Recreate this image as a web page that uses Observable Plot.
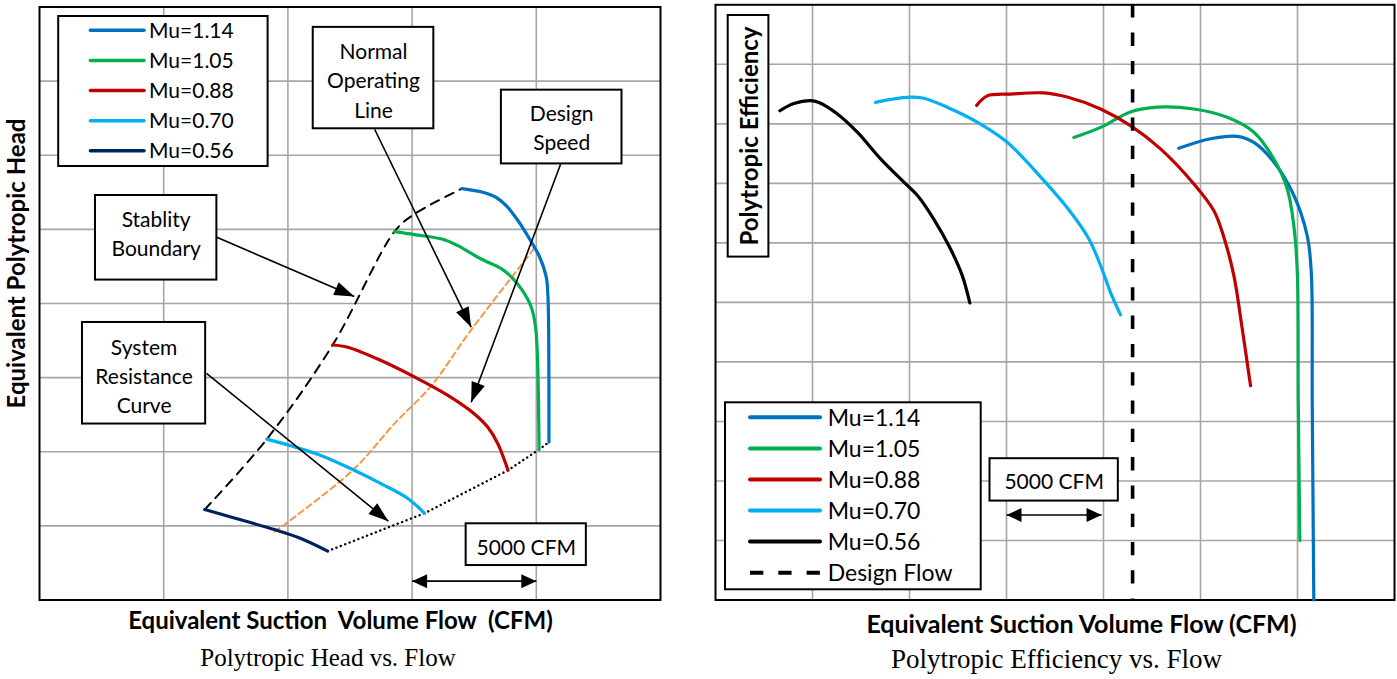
<!DOCTYPE html>
<html>
<head>
<meta charset="utf-8">
<script src="https://cdn.jsdelivr.net/npm/d3@7"></script>
<script src="https://cdn.jsdelivr.net/npm/@observablehq/plot@0.6"></script>
<style>
  html, body { margin: 0; padding: 0; background: #fff; }
  #page { position: relative; width: 1397px; height: 679px; overflow: hidden; background: #fff; }
  #page > svg { position: absolute; top: 0; }
</style>
</head>
<body>
<div id="page"></div>
<script>
// ---------------- data ----------------
const muLabels   = ["Mu=1.14", "Mu=1.05", "Mu=0.88", "Mu=0.70", "Mu=0.56"];
const headColors = ["#0070C0", "#00B050", "#C00000", "#00B0F0", "#002060"];
const effColors  = ["#0070C0", "#00B050", "#C00000", "#00B0F0", "#000000"];

// grid positions (CFM, head units, efficiency units)
const headFlowGrid = [5000, 10000, 15000, 20000];
const headGrid     = [1, 2, 3, 4, 5, 6, 7];
const effFlowGrid  = [5000, 10000, 15000, 20000, 25000, 30000];
const effGrid      = [1, 2, 3, 4, 5, 6, 7, 8, 9];

// Polytropic head vs flow  [flow CFM, head]
const head114 = [[17000,5.55],[17850,5.50],[18390,5.43],[18790,5.32],[19260,5.12],[19730,4.87],[20130,4.63],[20400,4.36],[20470,4.09],[20500,3.55],[20510,2.13]];
const head105 = [[14290,4.97],[15090,4.93],[16300,4.86],[16840,4.78],[17780,4.60],[18590,4.47],[18990,4.36],[19390,4.20],[19800,3.95],[19970,3.68],[20040,3.33],[20090,2.65],[20110,2.03]];
const head088 = [[11800,3.44],[12410,3.41],[13750,3.23],[15090,3.01],[16440,2.76],[17510,2.51],[18050,2.33],[18450,2.11],[18790,1.82],[18860,1.75]];
const head070 = [[9150,2.17],[10120,2.08],[11330,1.95],[12670,1.75],[13750,1.57],[14830,1.37],[15500,1.17]];
const head056 = [[6650,1.22],[7700,1.12],[9450,0.95],[10520,0.83],[11600,0.66]];
const stabilityBoundary = [[6650,1.22],[9150,2.17],[11800,3.44],[14290,4.97],[15020,5.19],[17000,5.55]];
const systemResistance  = [[11600,0.66],[15500,1.17],[18860,1.75],[20110,2.03],[20510,2.13]];
const normalOperating   = [[9470,0.92],[12610,1.75],[14290,2.38],[15770,2.89],[17370,3.64],[19930,4.75]];

// Polytropic efficiency vs flow  [flow CFM, efficiency]
const eff114 = [[23880,7.59],[25520,7.75],[26890,7.79],[27750,7.69],[28780,7.36],[29810,6.80],[30500,6.12],[30710,5.51],[30760,3.32],[30840,0]];
const eff105 = [[18470,7.77],[19850,7.94],[21390,8.20],[22770,8.28],[24660,8.25],[26380,8.11],[27750,7.86],[28780,7.41],[29470,6.91],[29810,6.29],[29990,5.51],[30040,3.32],[30120,1.00]];
const eff088 = [[13460,8.31],[14010,8.47],[15210,8.50],[16920,8.52],[18130,8.45],[19850,8.25],[21390,7.97],[22940,7.58],[24660,6.99],[25690,6.54],[26200,6.10],[26720,5.45],[27150,4.56],[27580,3.60]];
const eff070 = [[8250,8.36],[9020,8.41],[10050,8.45],[10740,8.43],[11940,8.28],[13490,8.03],[15040,7.69],[16920,7.05],[18300,6.52],[19240,6.07],[19850,5.62],[20360,5.17],[20880,4.79]];
const eff056 = [[3320,8.22],[4040,8.34],[4900,8.39],[5330,8.36],[6270,8.17],[7310,7.86],[8510,7.41],[9710,7.02],[10400,6.80],[11250,6.40],[12110,5.90],[12720,5.45],[13110,4.99]];
const designFlow = 21500;

// annotations (data units)
const headNotes = [
  {text: "Normal\nOperating\nLine", x1: 11020, x2: 15875, y1: 6.357, y2: 7.725, tx: 13447, ty: 6.988},
  {text: "Design\nSpeed", x1: 18595, x2: 23450, y1: 5.883, y2: 6.878, tx: 21023, ty: 6.347},
  {text: "Stablity\nBoundary", x1: 2254, x2: 7141, y1: 4.316, y2: 5.457, tx: 4697, ty: 4.924},
  {text: "System\nResistance\nCurve", x1: 1730, x2: 6689, y1: 2.374, y2: 3.744, tx: 4209, ty: 3.002},
  {text: "5000 CFM", x1: 17176, x2: 22015, y1: 0.465, y2: 1.028, tx: 19596, ty: 0.699}
];
const headArrows = [
  {x1: 7137, y1: 4.894, x2: 12673, y2: 4.094},
  {x1: 13491, y1: 6.351, x2: 17378, y2: 3.680},
  {x1: 20978, y1: 5.878, x2: 17378, y2: 2.668},
  {x1: 6725, y1: 3.058, x2: 14044, y2: 1.063},
  {x1: 15000, y1: 0.254, x2: 20000, y2: 0.254, both: true, small: true}
];
const effNotes  = [{text: "5000 CFM", x1: 14150, x2: 20764, y1: 1.662, y2: 2.374, tx: 17455, ty: 1.974}];
const effArrows = [{x1: 15000, y1: 1.428, x2: 19900, y2: 1.428, both: true, small: true}];

// ---------------- helpers ----------------
const FONT = "Lato, 'Open Sans', sans-serif";
const SERIF = "'Liberation Serif', 'DejaVu Serif', serif";
const GRID = "#a6a6a6";

function toTable(series) {
  return series.flatMap((pts, i) => pts.map(([flow, value]) => ({flow, value, mu: muLabels[i]})));
}
function arrowHead(ux, uy, len, wid) {
  return {draw(ctx) {
    const bx = -ux * len, by = -uy * len, nx = -uy * wid / 2, ny = ux * wid / 2;
    ctx.moveTo(0, 0);
    ctx.lineTo(bx + nx, by + ny);
    ctx.lineTo(bx - nx, by - ny);
    ctx.closePath();
  }};
}
function arrowMarks(arrows, sx, sy) {
  const marks = [Plot.link(arrows, {x1: "x1", y1: "y1", x2: "x2", y2: "y2", stroke: "black", strokeWidth: 1.6})];
  for (const a of arrows) {
    const dx = sx(a.x2) - sx(a.x1), dy = sy(a.y2) - sy(a.y1), n = Math.hypot(dx, dy);
    const ux = dx / n, uy = dy / n;
    const len = a.small ? 15 : 20, wid = 14;
    marks.push(Plot.dot([a], {x: "x2", y: "y2", r: 5, symbol: arrowHead(ux, uy, len, wid), fill: "black", stroke: "none"}));
    if (a.both) marks.push(Plot.dot([a], {x: "x1", y: "y1", r: 5, symbol: arrowHead(-ux, -uy, len, wid), fill: "black", stroke: "none"}));
  }
  return marks;
}
function noteMarks(notes, fontSize) {
  return [
    Plot.rect(notes, {x1: "x1", x2: "x2", y1: "y1", y2: "y2", fill: "white", stroke: "black", strokeWidth: 2}),
    Plot.text(notes, {x: "tx", y: "ty", text: "text", dy: -3, fontSize, fontFamily: FONT, lineHeight: 1.39, fill: "black"})
  ];
}
function label(str, o) {
  return Plot.text([str], {text: d => d, fill: "black", textAnchor: "middle", lineAnchor: "middle", ...o});
}

const page = document.getElementById("page");

// ---------------- left: head vs flow ----------------
const LD = {width: 700, height: 679, marginLeft: 39, marginRight: 40, marginTop: 6.5, marginBottom: 79.5};
const lxDomain = [0, 25000], lyDomain = [0, 8];
const lsx = d3.scaleLinear(lxDomain, [LD.marginLeft, LD.width - LD.marginRight]);
const lsy = d3.scaleLinear(lyDomain, [LD.height - LD.marginBottom, LD.marginTop]);

const left = Plot.plot({
  ...LD,
  x: {domain: lxDomain, axis: null},
  y: {domain: lyDomain, axis: null},
  color: {domain: muLabels, range: headColors},
  style: {background: "white", overflow: "visible"},
  marks: [
    Plot.ruleX(headFlowGrid, {stroke: GRID, strokeWidth: 1.6}),
    Plot.ruleY(headGrid, {stroke: GRID, strokeWidth: 1.6}),
    Plot.frame({stroke: "black", strokeWidth: 2}),
    Plot.line(normalOperating, {stroke: "#F79646", strokeWidth: 2, strokeDasharray: "6,4", curve: "catmull-rom"}),
    Plot.line(stabilityBoundary, {stroke: "black", strokeWidth: 2, strokeDasharray: "9,7", curve: "catmull-rom"}),
    Plot.line(systemResistance, {stroke: "black", strokeWidth: 2.4, strokeDasharray: "0.1,4.6", strokeLinecap: "round"}),
    Plot.line(toTable([head114, head105, head088, head070, head056]), {x: "flow", y: "value", z: "mu", stroke: "mu", strokeWidth: 3.2, curve: "catmull-rom"}),
    ...arrowMarks(headArrows, lsx, lsy),
    ...noteMarks(headNotes, 21),
    label("Equivalent Suction \u00A0Volume Flow \u00A0(CFM)", {frameAnchor: "bottom", dx: -9.5, dy: 21, fontSize: 24, fontWeight: "bold", fontFamily: FONT}),
    label("Polytropic Head vs. Flow", {frameAnchor: "bottom", dx: -22, dy: 58, fontSize: 25, fontFamily: SERIF}),
    label("Equivalent Polytropic Head", {frameAnchor: "left", rotate: -90, dx: -22.5, dy: -40, fontSize: 24, fontWeight: "bold", fontFamily: FONT})
  ]
});
left.style.left = "0px";
page.appendChild(left);

// ---------------- right: efficiency vs flow ----------------
const RD = {width: 697, height: 679, marginLeft: 15, marginRight: 3, marginTop: 4.3, marginBottom: 79.5};
const rxDomain = [0, 35000], ryDomain = [0, 10];
const rsx = d3.scaleLinear(rxDomain, [RD.marginLeft, RD.width - RD.marginRight]);
const rsy = d3.scaleLinear(ryDomain, [RD.height - RD.marginBottom, RD.marginTop]);

const right = Plot.plot({
  ...RD,
  x: {domain: rxDomain, axis: null},
  y: {domain: ryDomain, axis: null},
  color: {domain: muLabels, range: effColors},
  style: {background: "white", overflow: "visible"},
  marks: [
    Plot.ruleX(effFlowGrid, {stroke: GRID, strokeWidth: 1.6}),
    Plot.ruleY(effGrid, {stroke: GRID, strokeWidth: 1.6}),
    Plot.frame({stroke: "black", strokeWidth: 2}),
    Plot.line(toTable([eff114, eff105, eff088, eff070, eff056]), {x: "flow", y: "value", z: "mu", stroke: "mu", strokeWidth: 3.2, curve: "catmull-rom"}),
    Plot.ruleX([designFlow], {stroke: "black", strokeWidth: 3.6, strokeDasharray: "13.3,15"}),
    ...arrowMarks(effArrows, rsx, rsy),
    ...noteMarks(effNotes, 21),
    label("Equivalent Suction Volume Flow (CFM)", {frameAnchor: "bottom", dx: 26.5, dy: 24.5, fontSize: 25, fontWeight: "bold", fontFamily: FONT}),
    label("Polytropic Efficiency vs. Flow", {frameAnchor: "bottom", dx: 1.5, dy: 59, fontSize: 27, fontFamily: SERIF})
  ]
});
right.style.left = "700px";
page.appendChild(right);

// ---------------- legends & boxed y label (overlay) ----------------
const overlay = d3.create("svg").attr("width", 1397).attr("height", 679).style("left", "0px").style("pointer-events", "none");

function legend({x, y, w, h, rowY0, rowStep, swX1, swX2, textX, fontSize, lineW, entries}) {
  const g = overlay.append("g");
  g.append("rect").attr("x", x).attr("y", y).attr("width", w).attr("height", h)
    .attr("fill", "white").attr("stroke", "black").attr("stroke-width", 2);
  entries.forEach((e, i) => {
    const cy = rowY0 + i * rowStep;
    g.append("line").attr("x1", swX1).attr("x2", swX2).attr("y1", cy).attr("y2", cy)
      .attr("stroke", e.color).attr("stroke-width", lineW)
      .attr("stroke-dasharray", e.dash || null).attr("stroke-linecap", e.dash ? "butt" : "round");
    g.append("text").attr("x", textX).attr("y", cy + 0.36 * fontSize)
      .attr("font-family", FONT).attr("font-size", fontSize).attr("fill", "black").text(e.label);
  });
}
legend({x: 58.2, y: 16, w: 209.4, h: 150, rowY0: 30.3, rowStep: 30.12, swX1: 90.4, swX2: 144, textX: 149,
        fontSize: 21, lineW: 3.5, entries: muLabels.map((label, i) => ({label, color: headColors[i]}))});
legend({x: 725, y: 402.3, w: 255.7, h: 187, rowY0: 417.3, rowStep: 31.08, swX1: 750, swX2: 820, textX: 827.7,
        fontSize: 23, lineW: 4,
        entries: [...muLabels.map((label, i) => ({label, color: effColors[i]})), {label: "Design Flow", color: "black", dash: "13.3,15"}]});

// boxed y label of the efficiency chart
overlay.append("rect").attr("x", 727.7).attr("y", 15).attr("width", 40.7).attr("height", 241.6)
  .attr("fill", "white").attr("stroke", "black").attr("stroke-width", 2);
overlay.append("text").attr("transform", `translate(${749 + 0.36 * 24},136) rotate(-90)`)
  .attr("text-anchor", "middle").attr("font-family", FONT).attr("font-weight", "bold").attr("font-size", 24)
  .attr("fill", "black").text("Polytropic Efficiency");

page.appendChild(overlay.node());
</script>
</body>
</html>
